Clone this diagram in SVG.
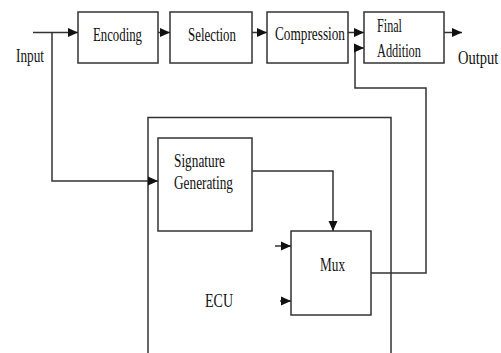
<svg xmlns="http://www.w3.org/2000/svg" width="501" height="353" viewBox="0 0 501 353">
<style>
.box{fill:#fff;stroke:#333;stroke-width:1.5}
.ln{fill:none;stroke:#333;stroke-width:1.5}
text{font-family:"Liberation Serif","Times New Roman",serif;font-size:18px;fill:#111}
</style>
<defs>
<marker id="ah" markerUnits="userSpaceOnUse" markerWidth="10" markerHeight="10" viewBox="0 0 10 10" refX="10" refY="5" orient="auto">
<path d="M0,0.5 L10,5 L0,9.5 z" fill="#111"/>
</marker>
</defs>
<rect width="501" height="353" fill="#fff"/>
<g id="ecu">
<path class="ln" d="M148,353 V117.5 H391 V353"/>
<text x="205" y="307" textLength="28" lengthAdjust="spacingAndGlyphs">ECU</text>
</g>
<g id="encoding">
<rect class="box" x="78" y="12" width="80" height="51"/>
<text x="93" y="41" textLength="49" lengthAdjust="spacingAndGlyphs">Encoding</text>
</g>
<g id="selection">
<rect class="box" x="170" y="12" width="82" height="51"/>
<text x="188" y="41" textLength="48" lengthAdjust="spacingAndGlyphs">Selection</text>
</g>
<g id="compression">
<rect class="box" x="267" y="12" width="81" height="51"/>
<text x="275" y="40" textLength="70" lengthAdjust="spacingAndGlyphs">Compression</text>
</g>
<g id="final-addition">
<rect class="box" x="364" y="12" width="80" height="51"/>
<text x="377" y="32" textLength="25" lengthAdjust="spacingAndGlyphs">Final</text>
<text x="377" y="57" textLength="44" lengthAdjust="spacingAndGlyphs">Addition</text>
</g>
<g id="signature">
<rect class="box" x="158" y="138" width="94" height="93"/>
<text x="174" y="167" textLength="51" lengthAdjust="spacingAndGlyphs">Signature</text>
<text x="174" y="189" textLength="59" lengthAdjust="spacingAndGlyphs">Generating</text>
</g>
<g id="mux">
<rect class="box" x="291" y="231" width="80" height="84"/>
<text x="320" y="271" textLength="25" lengthAdjust="spacingAndGlyphs">Mux</text>
</g>
<g id="labels">
<text x="16" y="62" textLength="28" lengthAdjust="spacingAndGlyphs">Input</text>
<text transform="translate(458,64) scale(1,1.24)" x="0" y="0" style="font-size:14.5px">Output</text>
</g>
<g id="connectors">
<path class="ln" d="M33,32.5 H78" marker-end="url(#ah)"/>
<path class="ln" d="M52,32.5 V181 H158" marker-end="url(#ah)"/>
<path class="ln" d="M158,32.5 H170" marker-end="url(#ah)"/>
<path class="ln" d="M252,32.5 H267" marker-end="url(#ah)"/>
<path class="ln" d="M348,32.5 H364" marker-end="url(#ah)"/>
<path class="ln" d="M444,32.5 H462" marker-end="url(#ah)"/>
<path class="ln" d="M371,273 H426 V88 H355 V48 H364" marker-end="url(#ah)"/>
<path class="ln" d="M252,171 H333 V231" marker-end="url(#ah)"/>
<path class="ln" d="M275,246 H291" marker-end="url(#ah)"/>
<path class="ln" d="M280,301 H291" marker-end="url(#ah)"/>
</g>
</svg>
